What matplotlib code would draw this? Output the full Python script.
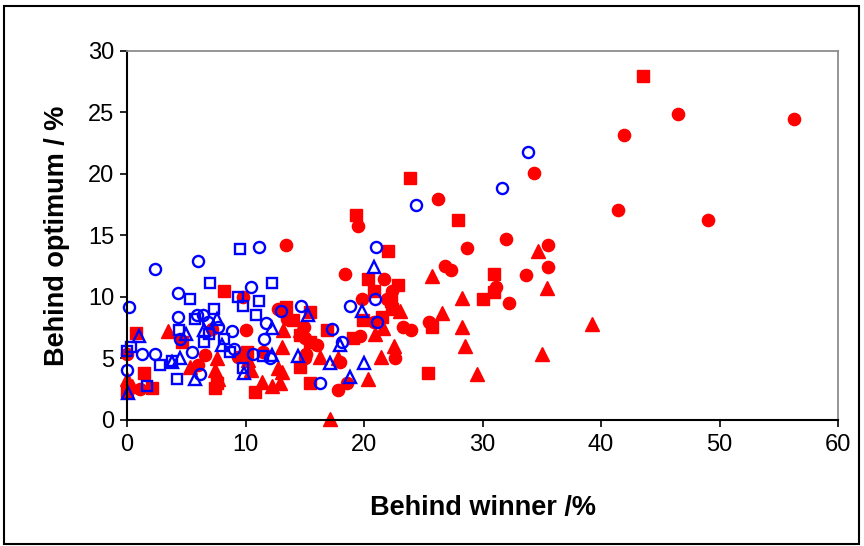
import matplotlib
matplotlib.use("Agg")
import matplotlib.pyplot as plt
from matplotlib.patches import Rectangle

plt.rcParams['font.family'] = ['Liberation Sans', 'DejaVu Sans']

# Red series (filled markers)
red_circle_x = [56.3, 46.5, 41.9, 41.4, 49.0, 34.3, 26.2, 19.5, 28.7, 32.0, 35.5, 35.5,
                33.7, 31.1, 32.2, 26.8, 27.3, 18.4, 21.7, 22.4, 21.9, 19.8, 20.8, 23.3,
                24.0, 25.5, 19.7, 22.6, 18.6, 17.8, 13.4, 12.7, 9.8, 14.9, 15.0, 10.0,
                11.5, 15.1, 7.2, 6.6, 0.0, 1.1, 13.5, 16.0, 13.1, 18.0, 15.0, 6.0, 9.4]
red_circle_y = [24.5, 24.9, 23.2, 17.1, 16.3, 20.1, 18.0, 15.8, 14.0, 14.7, 14.2, 12.4,
                11.8, 10.8, 9.5, 12.5, 12.2, 11.9, 11.5, 10.5, 9.8, 9.8, 8.0, 7.6,
                7.3, 8.0, 6.8, 5.0, 3.0, 2.4, 14.2, 9.0, 10.0, 7.6, 6.7, 7.3,
                5.5, 5.4, 7.4, 5.3, 5.4, 2.5, 8.2, 6.1, 8.9, 4.7, 5.0, 4.5, 5.1]

red_square_x = [43.5, 23.9, 19.3, 27.9, 22.0, 31.0, 31.0, 30.0, 20.3, 22.9, 20.8, 22.4,
                19.9, 21.5, 25.7, 19.1, 25.4, 8.2, 13.4, 15.4, 14.0, 16.9, 15.4, 14.6,
                10.8, 15.4, 0.8, 4.6, 1.4, 7.6, 2.1, 0.0, 14.6, 10.1, 22.3, 7.4]
red_square_y = [28.0, 19.7, 16.7, 16.3, 13.7, 11.9, 10.4, 9.8, 11.5, 11.0, 10.5, 9.0,
                8.1, 8.4, 7.6, 6.7, 3.8, 10.5, 9.2, 8.8, 8.1, 7.3, 6.3, 4.3,
                2.3, 3.0, 7.1, 6.3, 3.8, 3.0, 2.6, 2.3, 6.9, 5.5, 9.7, 2.6]

red_tri_x = [39.2, 34.7, 35.4, 28.3, 28.3, 28.5, 35.0, 29.5, 25.7, 23.0, 26.6, 21.6,
             20.9, 22.5, 21.4, 20.3, 17.1, 13.2, 13.1, 16.3, 17.8, 13.1, 11.4, 12.2,
             12.9, 3.5, 5.3, 7.6, 0.0, 7.4, 7.7, 10.2, 10.5, 12.7, 14.6, 0.4]
red_tri_y = [7.8, 13.7, 10.7, 9.9, 7.6, 6.0, 5.4, 3.7, 11.7, 8.9, 8.7, 7.5,
             7.0, 6.0, 5.1, 3.3, 0.1, 7.3, 5.9, 5.1, 5.0, 3.9, 3.1, 2.8,
             3.0, 7.2, 4.3, 5.0, 3.3, 4.1, 3.3, 4.9, 4.1, 4.2, 7.3, 2.8]

# Blue series (open markers)
blue_circle_x = [33.8, 31.6, 24.4, 21.0, 20.9, 18.8, 21.1, 11.1, 10.5, 14.7, 13.0, 11.7,
                 17.3, 8.9, 11.6, 10.6, 12.1, 16.3, 18.1, 2.4, 6.0, 4.3, 0.2, 4.3,
                 5.9, 6.4, 4.5, 5.5, 1.3, 2.4, 0.0, 6.2, 7.7, 9.0, 6.8]
blue_circle_y = [21.8, 18.9, 17.5, 14.1, 9.8, 9.3, 8.0, 14.1, 10.8, 9.3, 8.9, 7.9,
                 7.4, 7.2, 6.6, 5.4, 5.0, 3.0, 6.3, 12.3, 12.9, 10.3, 9.2, 8.4,
                 8.5, 8.5, 6.6, 5.5, 5.4, 5.4, 4.1, 3.7, 7.6, 5.8, 8.0]

blue_square_x = [9.5, 7.0, 12.2, 5.3, 9.4, 11.1, 7.3, 5.7, 9.8, 10.9, 0.3, 2.8,
                 4.2, 1.7, 3.8, 6.5, 8.7, 4.4, 11.5, 9.8, 6.9, 8.2, 0.0]
blue_square_y = [13.9, 11.1, 11.1, 9.8, 10.0, 9.7, 9.0, 8.2, 9.3, 8.5, 5.9, 4.5,
                 3.3, 2.8, 4.8, 6.3, 5.5, 7.3, 5.2, 4.2, 7.0, 6.6, 5.6]

blue_tri_x = [20.8, 19.8, 20.0, 18.8, 15.3, 12.2, 17.1, 18.0, 1.0, 0.1, 5.7, 3.8,
              12.2, 6.5, 8.0, 5.0, 9.9, 14.4, 7.6, 4.5]
blue_tri_y = [12.4, 8.9, 4.6, 3.5, 8.5, 7.5, 4.6, 6.1, 6.8, 2.2, 3.3, 4.7,
              5.3, 7.3, 6.1, 7.0, 3.8, 5.2, 8.2, 5.0]

x_ticks = [0, 10, 20, 30, 40, 50, 60]
y_ticks = [0, 5, 10, 15, 20, 25, 30]

RED = '#ff0000'
BLUE = '#0000ff'

fig = plt.figure(figsize=(8.64, 5.46), dpi=100)
ax = fig.add_axes([0.147, 0.2308, 0.823, 0.6758])

ax.plot(red_circle_x, red_circle_y, 'o', color=RED, ms=8.8, mec=RED, ls='none', clip_on=False)
ax.plot(red_square_x, red_square_y, 's', color=RED, ms=8.3, mec=RED, ls='none', clip_on=False)
ax.plot(red_tri_x, red_tri_y, '^', color=RED, ms=9.8, mec=RED, ls='none', clip_on=False)
ax.plot(blue_circle_x, blue_circle_y, 'o', mfc='none', mec=BLUE, mew=1.7, ms=8.0, ls='none', clip_on=False)
ax.plot(blue_square_x, blue_square_y, 's', mfc='none', mec=BLUE, mew=1.7, ms=7.5, ls='none', clip_on=False)
ax.plot(blue_tri_x, blue_tri_y, '^', mfc='none', mec=BLUE, mew=1.7, ms=8.8, ls='none', clip_on=False)

ax.set_xlim(0, 60)
ax.set_ylim(0, 30)
ax.set_xticks(x_ticks)
ax.set_yticks(y_ticks)
ax.tick_params(direction='out', length=5, width=1.2, labelsize=17, colors='black')
ax.tick_params(axis='x', pad=5)
ax.tick_params(axis='y', pad=4)

for side in ('left', 'bottom'):
    ax.spines[side].set_color('black')
    ax.spines[side].set_linewidth(1.5)
for side in ('top', 'right'):
    ax.spines[side].set_color('#8c8c8c')
    ax.spines[side].set_linewidth(1.3)

ax.set_xlabel('Behind winner /%', fontsize=19.5, fontweight='bold', labelpad=28)
ax.set_ylabel('Behind optimum / %', fontsize=19.5, fontweight='bold', labelpad=13)

# outer frame around the whole chart
fig.patches.append(Rectangle((4 / 864, 2 / 546), 855 / 864, 538 / 546, transform=fig.transFigure,
                             fill=False, edgecolor='black', linewidth=1.5))

fig.savefig('out.png', dpi=100)
